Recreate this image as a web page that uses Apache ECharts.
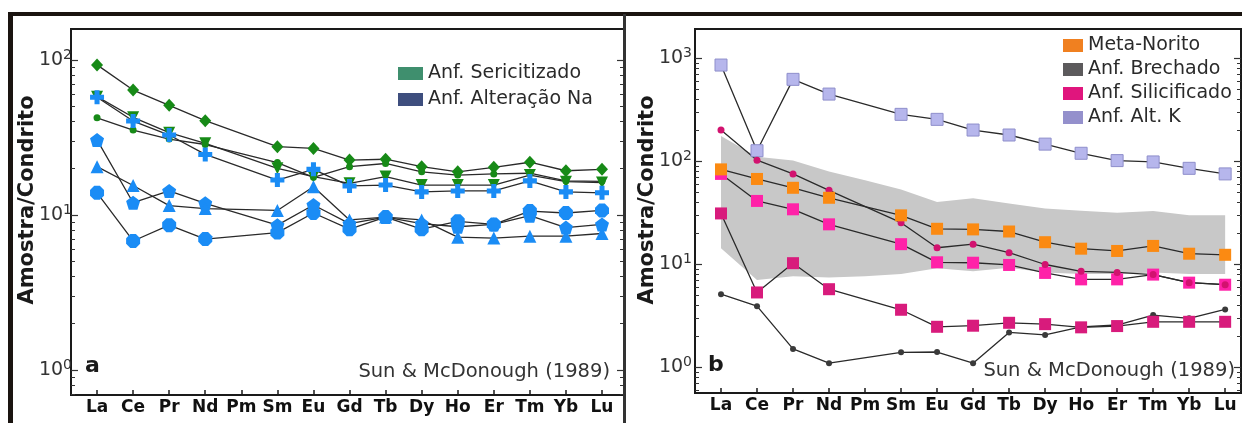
<!DOCTYPE html>
<html>
<head>
<meta charset="utf-8">
<script src="https://cdn.jsdelivr.net/npm/echarts@6/dist/echarts.min.js"></script>
<style>html,body{margin:0;padding:0;background:#fff}#c{width:1242px;height:423px}</style>
</head>
<body>
<div id="c"></div>
<script>
// ---------- data ----------
const categories = ['La','Ce','Pr','Nd','Pm','Sm','Eu','Gd','Tb','Dy','Ho','Er','Tm','Yb','Lu'];

// panel a  (Anf. Sericitizado - green)
const serDiamond = [93, 64, 51, 40.6, null, 27.6, 26.9, 22.6, 22.9, 20.5, 19.0, 20.3, 21.9, 19.3, 19.7];
const serTriDown = [58, 42.7, 34, 29, null, 20, 17.7, 16.0, 17.7, 15.6, 15.6, 15.6, 18.1, 16.4, 16.2];
const serCircle  = [42.4, 35.3, 30.9, 28.5, null, 21.8, 17.5, 20.5, 21.5, 19, 18.1, 18.4, 18.6, 16.6, 16.5];
// panel a  (Anf. Alteração Na - blue)
const naCross = [57.5, 40.4, 32.8, 24.6, null, 16.8, 19.7, 15.4, 15.6, 14.1, 14.3, 14.3, 16.6, 14.1, 13.9];
const naPent  = [30.5, 12.0, 14.3, 11.9, null, 8.6, 11.6, 8.8, 9.7, 8.8, 8.4, 8.7, 9.9, 8.3, 8.7];
const naTri   = [20.5, 15.5, 11.5, 11.0, null, 10.7, 15.2, 9.3, 9.7, 9.3, 7.2, 7.1, 7.3, 7.3, 7.6];
const naHex   = [13.9, 6.8, 8.6, 7.0, null, 7.7, 10.3, 8.1, 9.7, 8.1, 9.1, 8.7, 10.6, 10.3, 10.7];

// panel b
const metaNorito    = [83, 67, 55, 44, null, 29.7, 22, 21.7, 20.7, 16.3, 14.1, 13.4, 15.0, 12.6, 12.3];
const brechado      = [5.1, 3.9, 1.5, 1.09, null, 1.39, 1.40, 1.09, 2.17, 2.05, 2.46, 2.56, 3.2, 2.97, 3.63];
const silicCircle   = [200, 102, 75, 52, null, 25.2, 14.4, 15.6, 12.9, 9.9, 8.5, 8.3, 7.9, 6.6, 6.3];
const silicSqBright = [75, 41, 34, 24.3, null, 15.6, 10.4, 10.3, 9.8, 8.2, 7.1, 7.1, 7.9, 6.6, 6.3];
const silicSqDark   = [31, 5.3, 10.2, 5.7, null, 3.6, 2.46, 2.52, 2.69, 2.61, 2.43, 2.5, 2.75, 2.75, 2.75];
const altK          = [855, 126, 621, 447, null, 284, 254, 200, 179, 146, 119, 101, 98, 85, 75];
const bandUpper     = [175, 110, 101, 79, 65, 53, 40, 43.5, 38.8, 34.7, 33, 31.5, 32.7, 29.7, 29.7];
const bandLower     = [14.2, 7.0, 7.6, 7.4, 7.6, 8.0, 9.1, 8.5, 9.2, 8.3, 8.0, 8.0, 8.3, 8.0, 8.0];

const legendA = ['Anf. Sericitizado', 'Anf. Alteração Na'];
const legendB = ['Meta-Norito', 'Anf. Brechado', 'Anf. Silicificado', 'Anf. Alt. K'];
const yMajorA = [1, 10, 100];
const yMajorB = [1, 10, 100, 1000];

// ---------- helpers ----------
const FONT = 'DejaVu Sans';
const LINE = {color: '#2a2a2a', width: 1.3};
const GREEN = '#178a17';
const BLUE = '#1a8cf5';
const P_CROSS = 'path://M3.2,0H6.8V3.2H10V6.8H6.8V10H3.2V6.8H0V3.2H3.2Z';
const P_PENT = 'path://M5,0L10,3.8L8.1,10H1.9L0,3.8Z';
const P_HEX = 'path://M3,0H7L10,3V7L7,10H3L0,7V3Z';

function pts(arr) {
  const out = [];
  arr.forEach((v, i) => { if (v !== null) out.push([i, v]); });
  return out;
}
function minors(lo, hi) {
  const r = [];
  for (let e = -1; e <= 3; e++) for (let m = 2; m <= 9; m++) {
    const v = m * Math.pow(10, e);
    if (v > lo && v < hi) r.push(+v.toPrecision(3));
  }
  return r;
}
function lineSeries(name, arr, grid, symbol, size, color, extra) {
  return Object.assign({
    type: 'line', name: name, data: pts(arr),
    xAxisIndex: grid, yAxisIndex: grid * 4,
    symbol: symbol, symbolSize: size, symbolKeepAspect: true,
    itemStyle: {color: color}, lineStyle: LINE, z: 3, silent: true
  }, extra || {});
}

const A = {min: 0.69, max: 158.5};
const B = {min: 0.56, max: 1914};

function xAxis(grid, max) {
  return {
    type: 'value', gridIndex: grid, min: -0.722, max: max,
    axisLine: {show: true, onZero: false, lineStyle: {color: '#1a1a1a', width: 2}},
    axisTick: {show: true, inside: true, length: 5, customValues: categories.map((c, i) => i),
               lineStyle: {color: '#1a1a1a', width: 1.5}},
    axisLabel: {customValues: categories.map((c, i) => i), formatter: v => categories[v],
                fontFamily: FONT, fontWeight: 'bold', fontSize: 17, color: '#111', margin: 4},
    splitLine: {show: false}
  };
}
function yAxes(grid, rng, majors, margin) {
  const base = {type: 'log', logBase: 10, gridIndex: grid, min: rng.min, max: rng.max, splitLine: {show: false}};
  const mins = minors(rng.min, rng.max);
  return [
    Object.assign({}, base, {
      position: 'left',
      axisLine: {show: true, onZero: false, lineStyle: {color: '#1a1a1a', width: 2}},
      axisTick: {show: true, inside: true, length: 7, customValues: majors, lineStyle: {color: '#333', width: 1.2}},
      axisLabel: {
        customValues: majors, margin: margin,
        formatter: v => '{b|10}{s|' + Math.round(Math.log10(v)) + '}',
        rich: {
          b: {fontFamily: FONT, fontSize: 19, color: '#333', lineHeight: 20, verticalAlign: 'bottom'},
          s: {fontFamily: FONT, fontSize: 14, color: '#333', lineHeight: 20, verticalAlign: 'bottom', padding: [0, 0, 8, 0]}
        }
      }
    }),
    Object.assign({}, base, {
      position: 'left', axisLine: {show: false, onZero: false}, axisLabel: {show: false},
      axisTick: {show: true, inside: true, length: 4, customValues: mins, lineStyle: {color: '#333', width: 1}}
    }),
    Object.assign({}, base, {
      position: 'right', axisLine: {show: true, onZero: false, lineStyle: {color: '#1a1a1a', width: 2}}, axisLabel: {show: false},
      axisTick: {show: true, inside: true, length: 7, customValues: majors, lineStyle: {color: '#333', width: 1.2}}
    }),
    Object.assign({}, base, {
      position: 'right', axisLine: {show: false, onZero: false}, axisLabel: {show: false},
      axisTick: {show: true, inside: true, length: 4, customValues: mins, lineStyle: {color: '#333', width: 1}}
    })
  ];
}

const chart = echarts.init(document.getElementById('c'), null, {renderer: 'canvas'});

// band (envelope) drawn as one polygon through the axes' own coordinate system
const bandSeries = {
  type: 'custom', name: 'band', xAxisIndex: 1, yAxisIndex: 4, z: 1, silent: true,
  data: categories.map((c, i) => [i, bandLower[i], bandUpper[i]]),
  encode: {x: 0, y: [1, 2]},
  renderItem: function (params, api) {
    if (params.dataIndex !== 0) return null;
    const top = [], bot = [];
    for (let i = 0; i < categories.length; i++) {
      top.push(api.coord([i, bandUpper[i]]));
      bot.push(api.coord([i, bandLower[i]]));
    }
    return {type: 'polygon', shape: {points: top.concat(bot.reverse())}, style: {fill: '#c8c8c8'}};
  }
};

const series = [
  // panel a
  lineSeries(legendA[0], serDiamond, 0, 'diamond', [12, 13], GREEN),
  lineSeries(legendA[0], serTriDown, 0, 'triangle', 12, GREEN, {symbolRotate: 180}),
  lineSeries(legendA[0], serCircle, 0, 'circle', 7, GREEN),
  lineSeries(legendA[1], naCross, 0, P_CROSS, 14, BLUE),
  lineSeries(legendA[1], naPent, 0, P_PENT, 14, BLUE),
  lineSeries(legendA[1], naTri, 0, 'triangle', 13, BLUE),
  lineSeries(legendA[1], naHex, 0, P_HEX, 14, BLUE),
  // panel b
  bandSeries,
  lineSeries(legendB[3], altK, 1, 'rect', 12, '#b6b6ec', {itemStyle: {color: '#b6b6ec', borderColor: '#8e8ecb', borderWidth: 1}}),
  lineSeries(legendB[1], brechado, 1, 'circle', 6, '#3a3a3a'),
  lineSeries(legendB[2], silicSqDark, 1, 'rect', 12, '#d81b7c'),
  lineSeries(legendB[2], silicSqBright, 1, 'rect', 12, '#ff22a8'),
  lineSeries(legendB[2], silicCircle, 1, 'circle', 7, '#d2126f'),
  lineSeries(legendB[0], metaNorito, 1, 'rect', 12, '#fb8a12')
];

const legendText = {fontFamily: FONT, fontSize: 19, color: '#2a2a2a'};
const option = {
  animation: false,
  grid: [
    {left: 71, top: 29, width: 553, height: 366, show: true, borderColor: '#1a1a1a', borderWidth: 2, backgroundColor: 'transparent'},
    {left: 695, top: 29, width: 546, height: 364, show: true, borderColor: '#1a1a1a', borderWidth: 2, backgroundColor: 'transparent'}
  ],
  xAxis: [xAxis(0, 14.61), xAxis(1, 14.44)],
  yAxis: [].concat(yAxes(0, A, yMajorA, -1), yAxes(1, B, yMajorB, 3)),
  legend: [
    {left: 393, top: 59, orient: 'vertical', itemWidth: 25, itemHeight: 13, itemGap: 7, selectedMode: false,
     textStyle: legendText,
     data: [
       {name: legendA[0], icon: 'rect', itemStyle: {color: '#3f8f6e', borderWidth: 0}},
       {name: legendA[1], icon: 'rect', itemStyle: {color: '#3e4e7e', borderWidth: 0}}
     ]},
    {left: 1058, top: 31, orient: 'vertical', itemWidth: 20, itemHeight: 13, itemGap: 5, selectedMode: false,
     textStyle: legendText,
     data: [
       {name: legendB[0], icon: 'rect', itemStyle: {color: '#f08020', borderWidth: 0}},
       {name: legendB[1], icon: 'rect', itemStyle: {color: '#5c5a5c', borderWidth: 0}},
       {name: legendB[2], icon: 'rect', itemStyle: {color: '#e0157d', borderWidth: 0}},
       {name: legendB[3], icon: 'rect', itemStyle: {color: '#9490cc', borderWidth: 0}}
     ]}
  ],
  graphic: [
    {type: 'rect', shape: {x: 8, y: 12, width: 1234, height: 4}, style: {fill: '#1a1410'}, silent: true, z: 10},
    {type: 'rect', shape: {x: 8, y: 12, width: 5, height: 411}, style: {fill: '#1a1410'}, silent: true, z: 10},
    {type: 'rect', shape: {x: 623, y: 14, width: 3, height: 409}, style: {fill: '#333'}, silent: true, z: 10},
    {type: 'text', x: 28, y: 200, rotation: Math.PI / 2,
     style: {text: 'Amostra/Condrito', font: 'bold 21px "DejaVu Sans"', fill: '#1a1a1a', align: 'center', verticalAlign: 'middle'}},
    {type: 'text', x: 648, y: 200, rotation: Math.PI / 2,
     style: {text: 'Amostra/Condrito', font: 'bold 21px "DejaVu Sans"', fill: '#1a1a1a', align: 'center', verticalAlign: 'middle'}},
    {type: 'text', x: 85, y: 366,
     style: {text: 'a', font: 'bold 22px "DejaVu Sans"', fill: '#1a1a1a', align: 'left', verticalAlign: 'middle'}},
    {type: 'text', x: 708, y: 365,
     style: {text: 'b', font: 'bold 22px "DejaVu Sans"', fill: '#1a1a1a', align: 'left', verticalAlign: 'middle'}},
    {type: 'text', x: 610, y: 372,
     style: {text: 'Sun & McDonough (1989)', font: '19.5px "DejaVu Sans"', fill: '#333', align: 'right', verticalAlign: 'middle'}},
    {type: 'text', x: 1235, y: 371,
     style: {text: 'Sun & McDonough (1989)', font: '19.5px "DejaVu Sans"', fill: '#333', align: 'right', verticalAlign: 'middle'}}
  ],
  series: series
};
chart.setOption(option);
</script>
</body>
</html>
